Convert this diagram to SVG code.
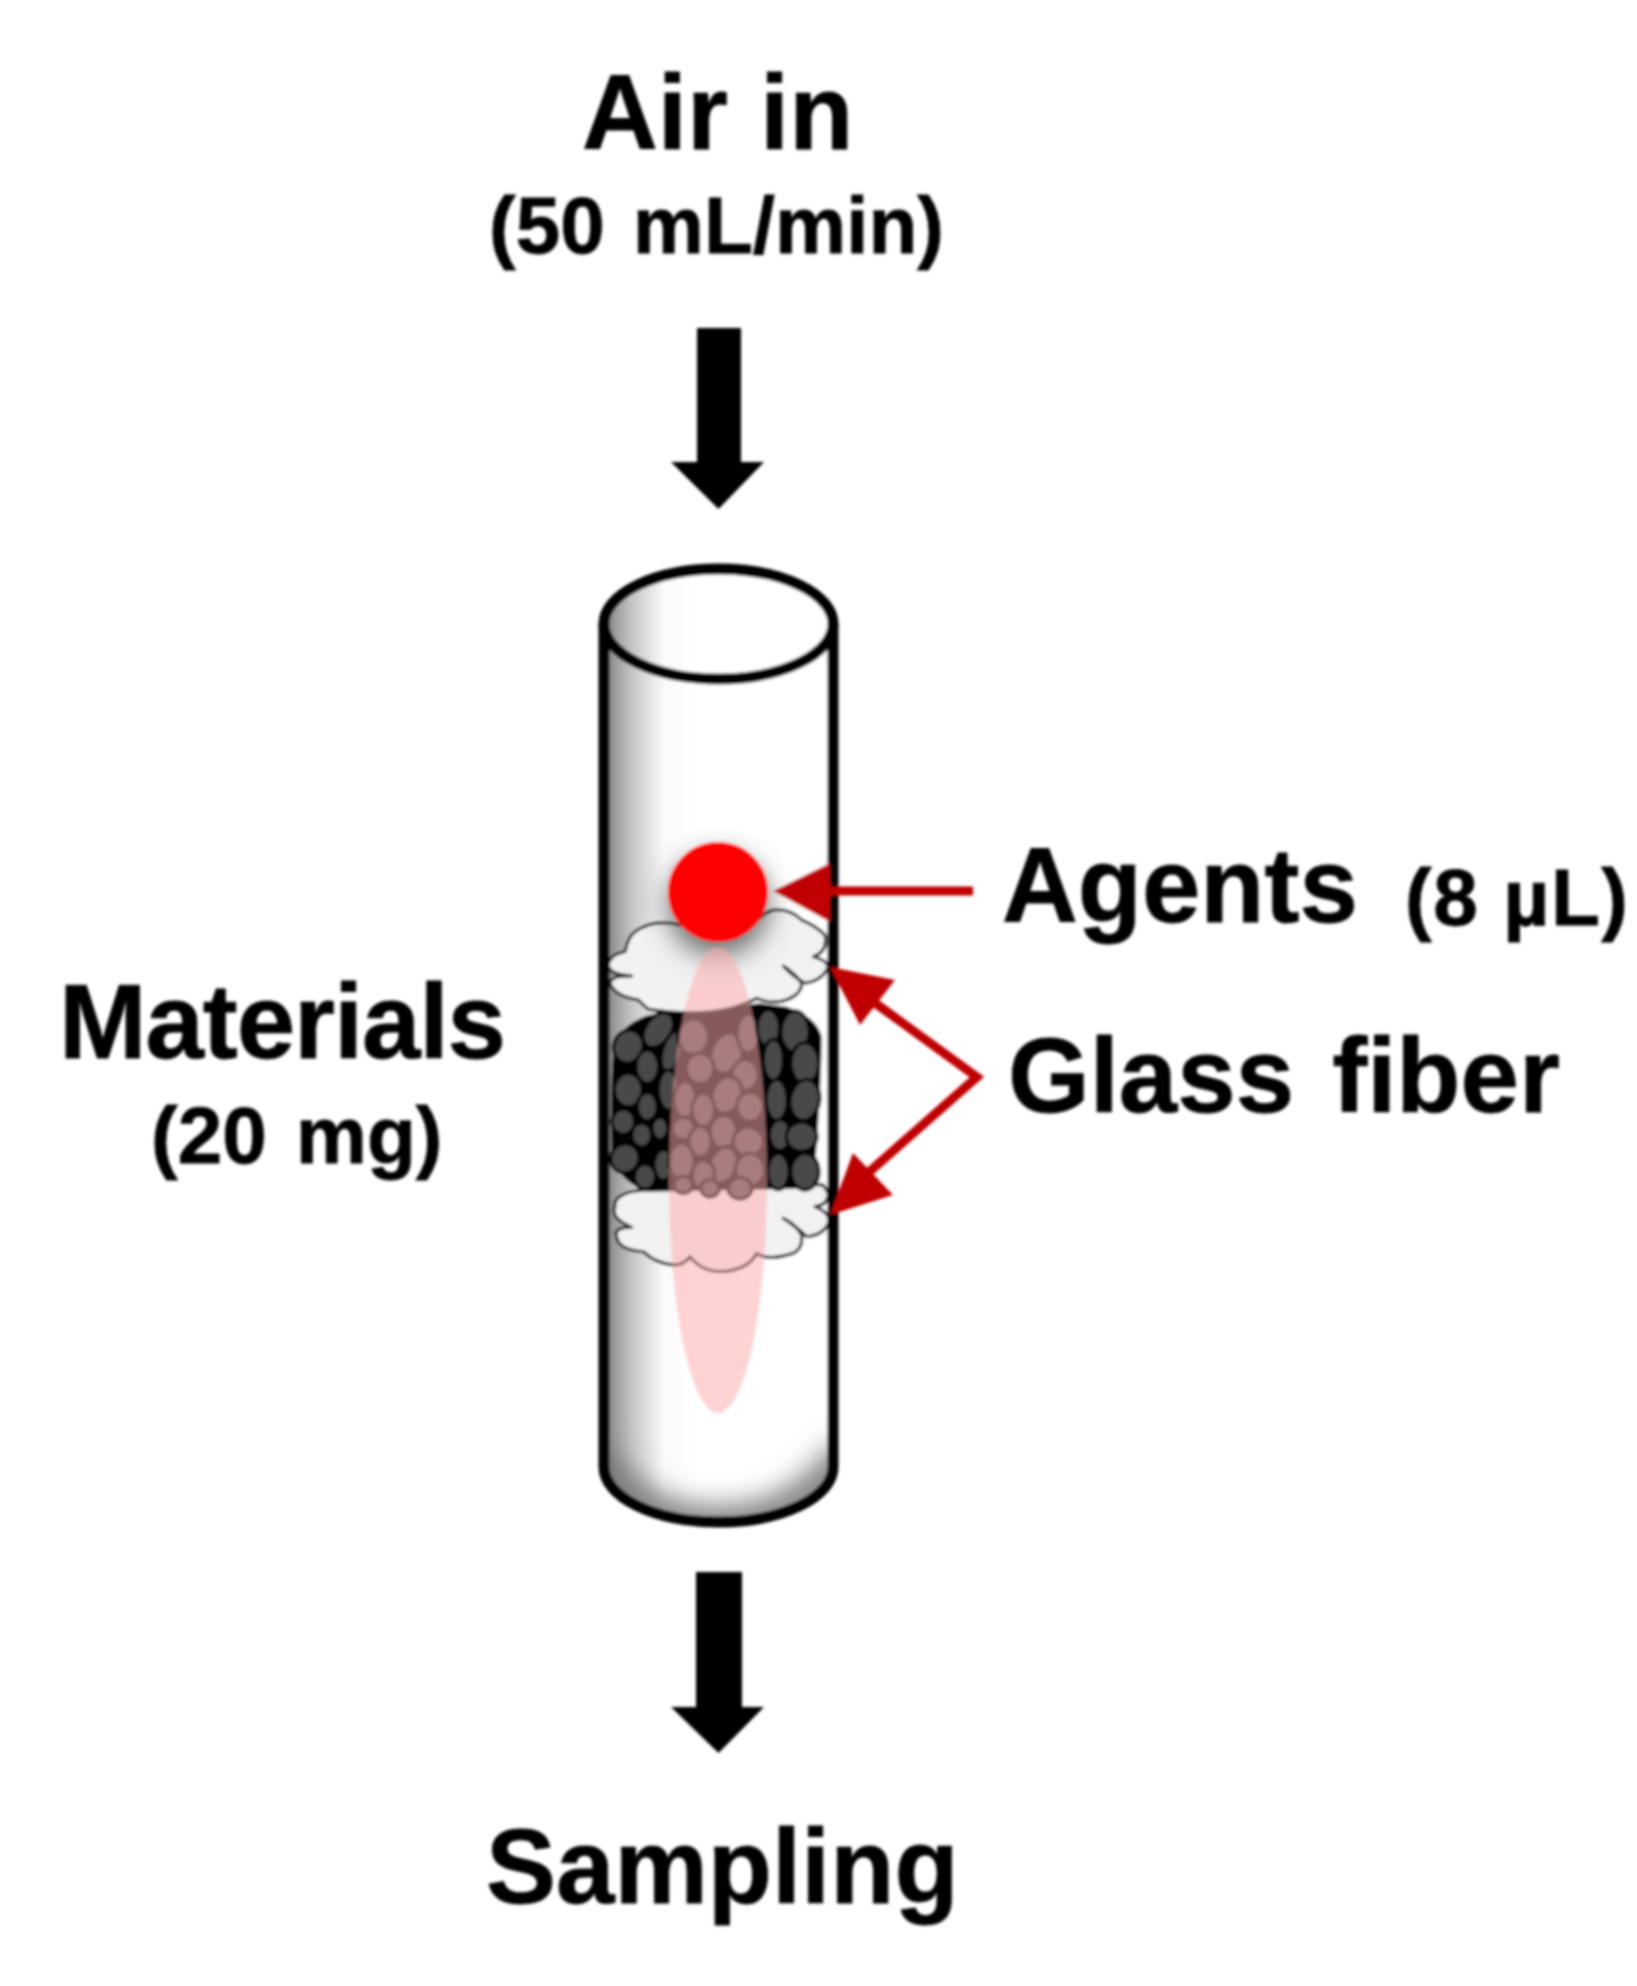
<svg xmlns="http://www.w3.org/2000/svg" width="1637" height="1986" viewBox="0 0 1637 1986">
<style>
text{font-family:"Liberation Sans",Arial,sans-serif;font-weight:bold;fill:#000;stroke:#000;stroke-width:.8;text-anchor:start}
.lg{font-size:105px}
.md{font-size:80px}
.tube{stroke:#000;stroke-width:11}
.cloud{fill:#f2f2f2;stroke:#111;stroke-width:9;stroke-linejoin:round;stroke-linecap:round}
.pt ellipse{fill:#4a4a4a;stroke:#000;stroke-width:10}
.red{fill:#c00000;stroke:none}
.redl{fill:none;stroke:#c00000;stroke-width:9}
</style>
<defs>
<linearGradient id="side" x1="0" x2="1" y1="0" y2="0">
<stop offset="0" stop-color="#808080"/><stop offset=".12" stop-color="#c4c4c4"/><stop offset=".26" stop-color="#fafafa"/><stop offset=".4" stop-color="#fff"/><stop offset="1" stop-color="#fff"/>
</linearGradient>
<filter id="b14" x="-50%" y="-50%" width="200%" height="200%"><feGaussianBlur stdDeviation="14"/></filter>
<filter id="b1" x="-5%" y="-5%" width="110%" height="110%"><feGaussianBlur stdDeviation="1.4"/></filter>
<clipPath id="body"><path d="M604 624V1467A114.500 55 0 0 0 833 1467V624Z"/></clipPath>
</defs>
<rect width="1637" height="1986" fill="#fff"/>
<g filter="url(#b1)">
<g id="tube">
<path d="M604 624V1467A114.500 55 0 0 0 833 1467V624Z" fill="url(#side)"/>
<g clip-path="url(#body)"><path d="M590 1452C620 1500 665 1524 718 1524S817 1500 848 1452" fill="none" stroke="#777" stroke-width="34" filter="url(#b14)"/></g>
</g>
<g id="glass-fiber-bottom" transform="translate(560 820) scale(.3333)">
<path class="cloud" d="M215 1115Q160 1130 165 1160Q150 1195 215 1222Q160 1222 170 1250Q175 1290 250 1295Q285 1330 340 1335Q375 1335 390 1310Q425 1355 485 1355Q565 1350 590 1300Q625 1325 700 1300Q730 1285 725 1245Q710 1215 670 1195Q715 1225 740 1250Q790 1245 805 1210Q815 1180 765 1160Q805 1155 805 1120L790 1095L500 1080Z"/>
</g>
<g id="materials" class="pt" transform="translate(560 820) scale(.3333)">
<path d="M265 585Q170 620 160 690Q150 800 155 1000Q170 1080 260 1115L760 1105Q785 800 785 650Q770 590 680 560L600 550L360 575Z" fill="#000"/>
<ellipse cx="205" cy="680" rx="44" ry="50" transform="rotate(20 205 680)"/><ellipse cx="295" cy="630" rx="38" ry="58" transform="rotate(35 295 630)"/><ellipse cx="262" cy="740" rx="34" ry="50"/><ellipse cx="335" cy="695" rx="28" ry="62" transform="rotate(15 335 695)"/><ellipse cx="205" cy="810" rx="42" ry="50"/><ellipse cx="262" cy="860" rx="30" ry="42"/><ellipse cx="325" cy="810" rx="30" ry="60"/><ellipse cx="190" cy="905" rx="34" ry="38"/><ellipse cx="245" cy="945" rx="30" ry="36"/><ellipse cx="300" cy="925" rx="24" ry="34"/><ellipse cx="195" cy="1015" rx="42" ry="44" transform="rotate(30 195 1015)"/><ellipse cx="255" cy="1070" rx="32" ry="38"/><ellipse cx="310" cy="1035" rx="28" ry="46"/>
<ellipse cx="400" cy="650" rx="46" ry="54"/><ellipse cx="500" cy="700" rx="46" ry="62" transform="rotate(20 500 700)"/><ellipse cx="565" cy="640" rx="34" ry="58"/><ellipse cx="420" cy="745" rx="42" ry="46"/><ellipse cx="555" cy="765" rx="40" ry="46"/><ellipse cx="375" cy="840" rx="34" ry="56"/><ellipse cx="500" cy="825" rx="44" ry="56" transform="rotate(20 500 825)"/><ellipse cx="570" cy="860" rx="40" ry="44"/><ellipse cx="430" cy="870" rx="34" ry="50"/><ellipse cx="370" cy="925" rx="34" ry="34"/><ellipse cx="490" cy="935" rx="40" ry="50"/><ellipse cx="565" cy="965" rx="46" ry="44"/><ellipse cx="420" cy="965" rx="34" ry="46"/><ellipse cx="365" cy="1025" rx="38" ry="56"/><ellipse cx="490" cy="1035" rx="40" ry="56" transform="rotate(20 490 1035)"/><ellipse cx="430" cy="1065" rx="34" ry="44"/><ellipse cx="570" cy="1050" rx="44" ry="50"/><ellipse cx="370" cy="1095" rx="28" ry="26"/><ellipse cx="540" cy="1105" rx="36" ry="32"/><ellipse cx="450" cy="1105" rx="28" ry="26"/>
<ellipse cx="625" cy="625" rx="34" ry="56"/><ellipse cx="705" cy="635" rx="42" ry="62"/><ellipse cx="640" cy="720" rx="30" ry="62"/><ellipse cx="735" cy="730" rx="42" ry="62"/><ellipse cx="650" cy="840" rx="32" ry="62"/><ellipse cx="735" cy="840" rx="44" ry="62" transform="rotate(10 735 840)"/><ellipse cx="660" cy="945" rx="32" ry="46"/><ellipse cx="725" cy="950" rx="46" ry="44"/><ellipse cx="655" cy="1055" rx="32" ry="54"/><ellipse cx="735" cy="1055" rx="42" ry="55"/>
</g>
<g id="glass-fiber-top" transform="translate(560 820) scale(.3333)">
<path class="cloud" d="M360 315Q280 295 225 335Q205 350 195 395Q145 405 145 440Q155 465 215 468Q155 465 150 490Q165 530 235 540Q255 560 265 568Q470 600 590 535Q650 560 700 530Q725 515 725 490Q710 465 670 438Q700 470 735 490Q790 480 805 440Q800 420 760 410Q805 395 795 345Q770 320 725 300Q690 265 640 270Q610 280 600 295Z"/>
</g>
<g id="tube-walls" fill="none" class="tube">
<path d="M604 624V1467A114.500 55 0 0 0 833 1467V624"/>
<ellipse cx="718.500" cy="624" rx="114.500" ry="55" fill="url(#side)"/>
</g>
<g id="agent-drop">
<circle cx="718" cy="905" r="50" fill="#444" opacity=".8" filter="url(#b14)"/>
<ellipse id="plume" cx="718" cy="1180" rx="49" ry="233" fill="#ffabab" fill-opacity=".525"/>
<circle cx="718" cy="892" r="50" fill="#f00"/>
</g>
<g id="connectors">
<path class="red" d="M773 891L830 863V922Z"/><path class="redl" d="M825 891H973"/>
<path class="redl" d="M875 1003L977 1077L868 1173" style="stroke-linejoin:miter"/>
<path class="red" d="M830 967L895 980L860 1025Z"/><path class="red" d="M830 1215L853 1153L893 1195Z"/>
<path d="M697 328H741V462H764L718.500 509L671 462H697Z" fill="#000"/>
<path d="M696 1572H742V1707H764L718.500 1753L671 1707H696Z" fill="#000"/>
</g>
<g id="labels">
<text class="lg" x="582" y="149" word-spacing="3">Air in</text>
<text class="md" x="489" y="253" word-spacing="6">(50 mL/min)</text>
<text class="lg" x="59" y="1058" textLength="447">Materials</text>
<text class="md" x="151" y="1163" word-spacing="7">(20 mg)</text>
<text class="lg" x="1002" y="922">Agents</text>
<text class="md" x="1405" y="925" textLength="223">(8 µL)</text>
<text class="lg" x="1008" y="1112" word-spacing="9">Glass fiber</text>
<text class="lg" x="486" y="1903">Sampling</text>
</g>
</g>
</svg>
